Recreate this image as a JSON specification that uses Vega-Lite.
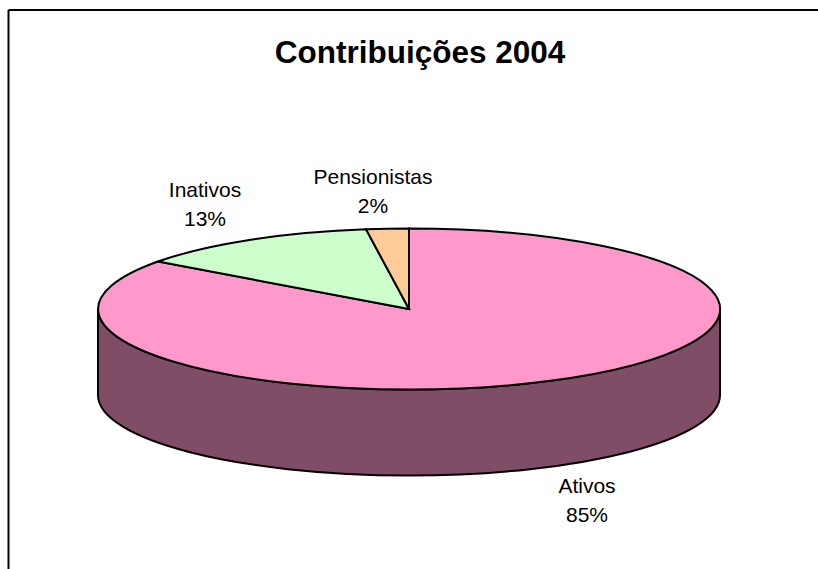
{
  "$schema": "https://vega.github.io/schema/vega-lite/v6.json",
  "autosize": {"type": "none"},
  "padding": {"left": 8, "top": 9.5, "right": 0, "bottom": 0},
  "width": 810,
  "height": 559.5,
  "background": "#ffffff",
  "title": {"text": "Contribuições 2004", "anchor": "middle", "font": "Liberation Sans", "fontSize": 31.5, "fontWeight": "bold", "color": "#000000", "offset": 0, "dx": 7, "dy": 85, "baseline": "alphabetic"},
  "data": {"values": [
    {"categoria": "Ativos", "participacao": 0.85},
    {"categoria": "Inativos", "participacao": 0.13},
    {"categoria": "Pensionistas", "participacao": 0.02}
  ]},
  "transform": [{"calculate": "[datum.categoria, format(datum.participacao, '.0%')]", "as": "rotulo"}],
  "encoding": {
    "x": {"datum": 0, "type": "quantitative", "scale": {"domain": [-401, 409]}, "axis": {"orient": "top", "title": null, "ticks": false, "labels": false, "grid": false, "domain": true, "domainColor": "#000000", "domainWidth": 2}},
    "y": {"datum": 0, "type": "quantitative", "scale": {"domain": [-260, 299.5]}, "axis": {"orient": "left", "title": null, "ticks": false, "labels": false, "grid": false, "domain": true, "domainColor": "#000000", "domainWidth": 2}}
  },
  "layer": [
    {
      "transform": [{"filter": "datum.categoria === 'Ativos'"}],
      "mark": {"type": "point", "filled": true, "opacity": 1, "size": 4, "fill": "#804D66", "stroke": "#000000", "strokeWidth": 2, "shape": "M-311 0L-311 86A311 80.5 0 0 0 311 86L311 0A311 80.5 0 0 1 -311 0Z"}
    },
    {
      "mark": {"type": "point", "filled": true, "opacity": 1, "size": 4, "stroke": "#000000", "strokeWidth": 2},
      "encoding": {
        "color": {"field": "categoria", "type": "nominal", "legend": null, "scale": {"domain": ["Ativos", "Inativos", "Pensionistas"], "range": ["#FF99CC", "#CCFFCC", "#FFCC99"]}},
        "shape": {"field": "categoria", "type": "nominal", "legend": null, "scale": {"domain": ["Ativos", "Inativos", "Pensionistas"], "range": [
          "M0 0L0 -80.5A311 80.5 0 1 1 -251 -47.5Z",
          "M0 0L-251 -47.5A311 80.5 0 0 1 -43 -79.7Z",
          "M0 0L-43 -79.7A311 80.5 0 0 1 0 -80.5Z"
        ]}}
      }
    },
    {
      "transform": [{"filter": "datum.categoria === 'Ativos'"}],
      "mark": {"type": "text", "font": "Liberation Sans", "fontSize": 21, "lineHeight": 29, "color": "#000000", "align": "center", "baseline": "middle"},
      "encoding": {"x": {"datum": 178, "type": "quantitative"}, "y": {"datum": -178, "type": "quantitative"}, "text": {"field": "rotulo"}}
    },
    {
      "transform": [{"filter": "datum.categoria === 'Inativos'"}],
      "mark": {"type": "text", "font": "Liberation Sans", "fontSize": 21, "lineHeight": 29, "color": "#000000", "align": "center", "baseline": "middle"},
      "encoding": {"x": {"datum": -204, "type": "quantitative"}, "y": {"datum": 118, "type": "quantitative"}, "text": {"field": "rotulo"}}
    },
    {
      "transform": [{"filter": "datum.categoria === 'Pensionistas'"}],
      "mark": {"type": "text", "font": "Liberation Sans", "fontSize": 21, "lineHeight": 29, "color": "#000000", "align": "center", "baseline": "middle"},
      "encoding": {"x": {"datum": -36, "type": "quantitative"}, "y": {"datum": 131, "type": "quantitative"}, "text": {"field": "rotulo"}}
    }
  ],
  "config": {"view": {"stroke": null}}
}
